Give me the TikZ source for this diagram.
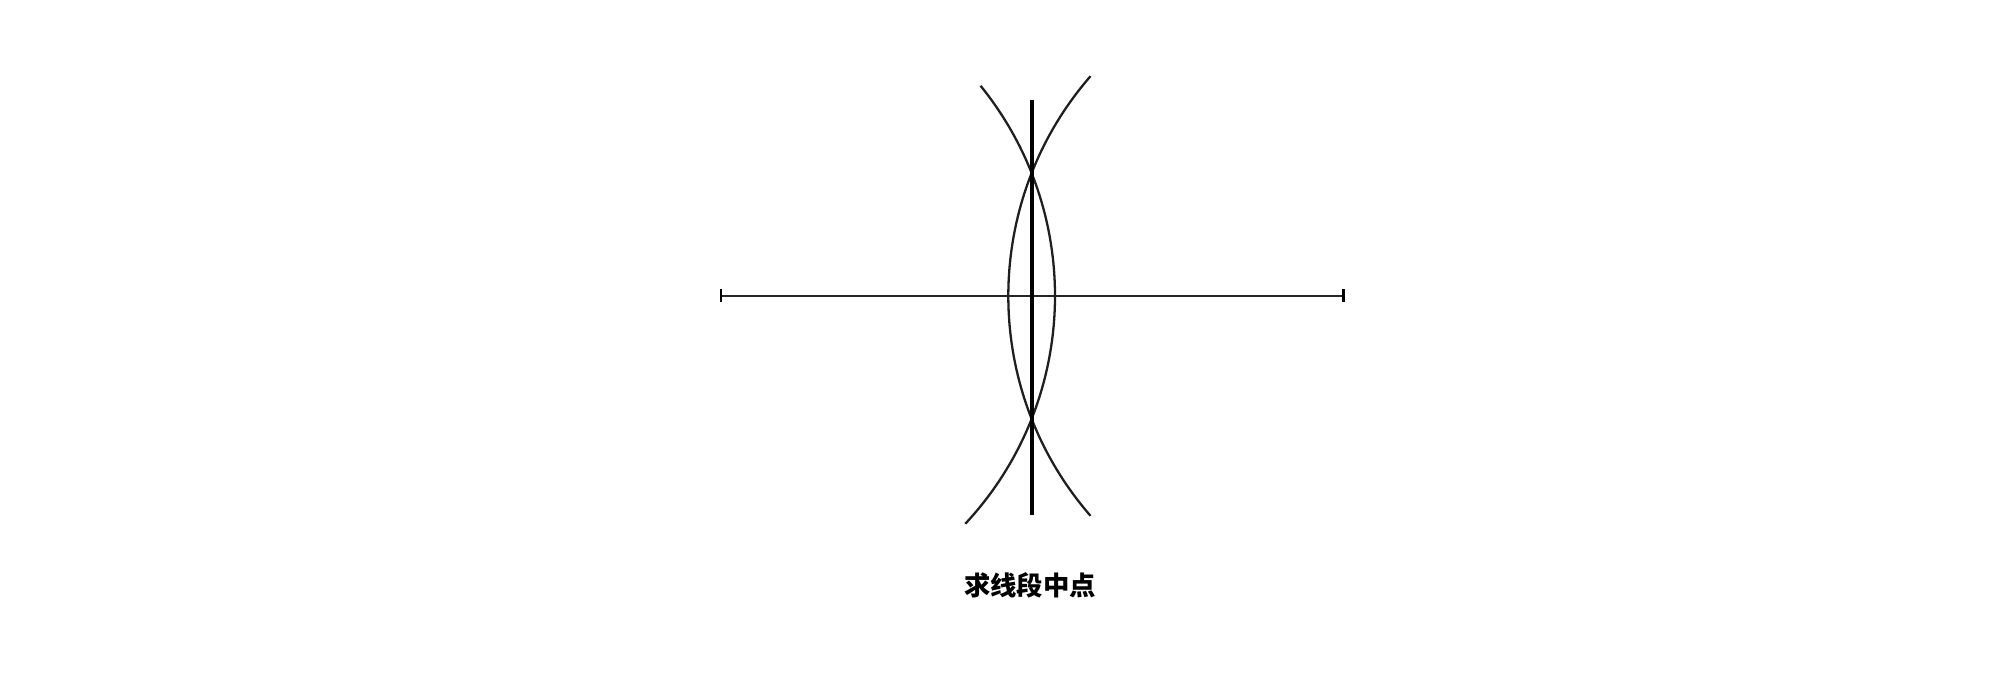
\documentclass[tikz,border=0pt]{standalone}
\usepackage{fontspec}
\newfontfamily\cjk{Noto Sans CJK SC}
\usepackage{tikz}
\usetikzlibrary{positioning}

\begin{document}
\begin{tikzpicture}[scale=1.0]
  \useasboundingbox (0,0) rectangle (40.16,13.68);
  \coordinate (A) at (14.42,7.76);   % left end of segment
  \coordinate (B) at (26.866,7.76);  % right end of segment
  \coordinate (M) at (20.643,7.76);  % midpoint

  \draw[line width=1.1pt,black!85] (A) -- (B) ; % the segment
  \draw[line width=1.6pt] (A) +(0,0.13) -- +(0,-0.13) ; % left tick
  \draw[line width=1.6pt] (B) +(0,0.13) -- +(0,-0.13) ; % right tick

  \draw[line width=1.3pt,black!88] (A) +(-43:6.68) arc(-43:39:6.68); % arc about A
  \draw[line width=1.3pt,black!88] (B) +(139:6.7) arc(139:221:6.7);  % arc about B

  \draw[line width=2.3pt] (20.643,11.68) -- (20.643,3.38) ; % bisector

  \node (title) at (20.6,1.98) {\cjk\bfseries\fontsize{15pt}{18pt}\selectfont 求线段中点};
\end{tikzpicture}
\end{document}
